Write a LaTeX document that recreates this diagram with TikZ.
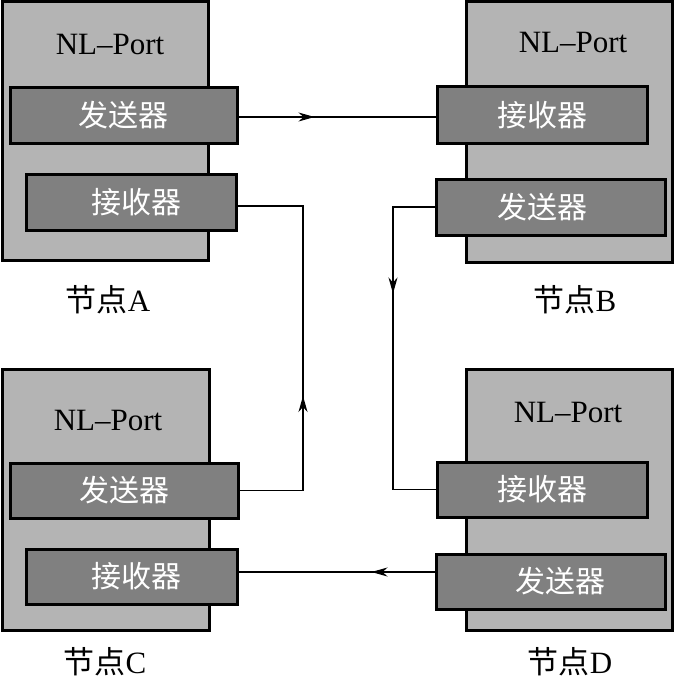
\documentclass[tikz,border=0pt]{standalone}
\usepackage{fontspec}
\setmainfont{Liberation Serif}
\newfontfamily\cjk{Noto Sans CJK SC}
\usetikzlibrary{arrows.meta,decorations.markings}
\definecolor{outerg}{HTML}{B4B4B4}
\definecolor{innerg}{HTML}{808080}
\begin{document}
\begin{tikzpicture}[x=1pt,y=-1pt,
  outerbox/.style={draw=black,line width=3pt,fill=outerg,inner sep=0pt},
  innerbox/.style={draw=black,line width=3pt,fill=innerg,inner sep=0pt,text=white,font=\fontsize{30}{34}\selectfont\cjk},
  porttext/.style={font=\fontsize{31}{36}\selectfont,inner sep=0pt},
  nodelabel/.style={font=\fontsize{31}{36}\selectfont,inner sep=0pt},
  conn/.style={line width=1.1pt},
  midarrow/.style={postaction={decorate,decoration={markings,mark=at position #1 with {\arrow{Stealth[length=16pt,width=9pt,inset=5pt]}}}}}
]
\useasboundingbox (0,0) rectangle (675,682);
% Node A
\node[outerbox,minimum width=206pt,minimum height=258pt] (A) at (105,131) {};
\node[innerbox,minimum width=227pt,minimum height=55pt] (aS) at (123.5,115.5) {发送器};
\node[innerbox,minimum width=210pt,minimum height=56pt] (aR) at (131,202) {\hspace*{10pt}接收器};
\node[porttext] (aP) at (110,45) {NL–Port};
\node[nodelabel] (aL) at (108,300) {{\cjk 节点}A};
% Node B
\node[outerbox,minimum width=206pt,minimum height=260pt] (B) at (569,132) {};
\node[innerbox,minimum width=210pt,minimum height=56pt] (bR) at (542,115) {接收器};
\node[innerbox,minimum width=229pt,minimum height=56pt] (bS) at (550.5,207) {\hspace*{-17pt}发送器};
\node[porttext] (bP) at (573,43) {NL–Port};
\node[nodelabel] (bL) at (575,300) {{\cjk 节点}B};
% Node C
\node[outerbox,minimum width=207pt,minimum height=261pt] (C) at (105.5,499.5) {};
\node[innerbox,minimum width=228pt,minimum height=55pt] (cS) at (124,490.5) {发送器};
\node[innerbox,minimum width=211pt,minimum height=55pt] (cR) at (131.5,576.5) {\hspace*{10pt}接收器};
\node[porttext] (cP) at (108,420) {NL–Port};
\node[nodelabel] (cL) at (105,662) {{\cjk 节点}C};
% Node D
\node[outerbox,minimum width=206pt,minimum height=261pt] (D) at (569,499.5) {};
\node[innerbox,minimum width=210pt,minimum height=55pt] (dR) at (542,489.5) {接收器};
\node[innerbox,minimum width=229pt,minimum height=55pt] (dS) at (550.5,581.5) {\hspace*{20pt}发送器};
\node[porttext] (dP) at (568,412) {NL–Port};
\node[nodelabel] (dL) at (570,662) {{\cjk 节点}D};
% connector guide coordinates
\coordinate (bdx) at (393,0);
\coordinate (cax) at (303,0);
\coordinate (aby) at (0,117);
\coordinate (dcy) at (0,572);
\coordinate (cay) at (0,206);
\draw[conn,midarrow=76pt] (aS.east |- aby) -- (bR.west |- aby);
\draw[conn,midarrow=128pt] (bS.west) -- (bS.west -| bdx) -- (dR.west -| bdx) -- (dR.west);
\draw[conn,midarrow=63pt] (dS.west |- dcy) -- (cR.east |- dcy);
\draw[conn,midarrow=158pt] (cS.east) -- (cS.east -| cax) -- (cax |- cay) -- (aR.east |- cay);
\end{tikzpicture}
\end{document}
